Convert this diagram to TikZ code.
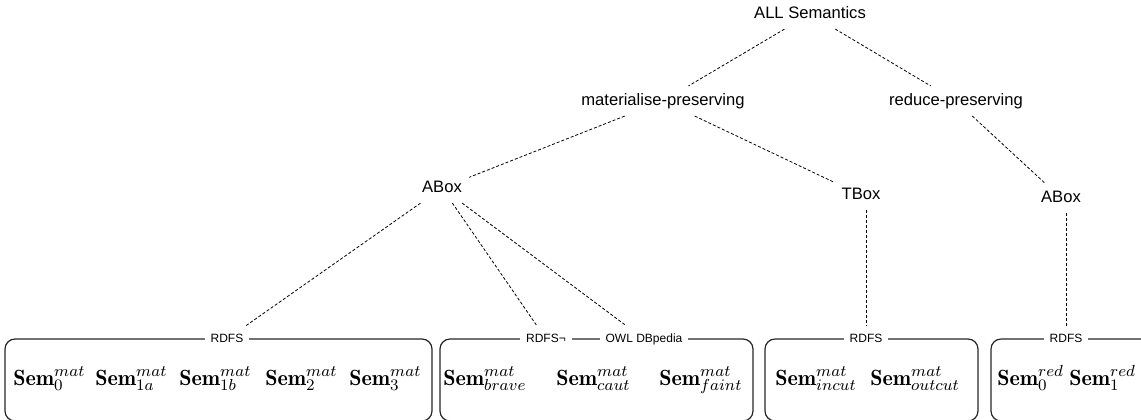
\documentclass[tikz,border=0pt]{standalone}
\usepackage{fontspec}
\newfontfamily\labfont{Liberation Sans}
\usetikzlibrary{fit}
\begin{document}
\begin{tikzpicture}[x=0.5pt,y=-0.5pt,
  concept/.style={font=\labfont\fontsize{8.3}{10}\selectfont, inner sep=3.5pt,
                  text height=6pt, text depth=1.7pt},
  link/.style={draw, line width=0.4pt, dash pattern=on 1.5pt off 1pt},
  family/.style={draw=black!85, line width=0.6pt, rounded corners=5pt, inner sep=0pt},
  famlabel/.style={font=\labfont\fontsize{6}{7}\selectfont, fill=white,
                   inner xsep=3pt, inner ysep=3.5pt, text height=4.4pt, text depth=1.3pt},
  sem/.style={anchor=base west, inner sep=0pt, font=\fontsize{11}{13}\selectfont}]
\useasboundingbox (0,0) rectangle (1141,419);
\clip (0,0) rectangle (1141,419);

% taxonomy of semantics
\node[concept] (all)  at (810,14)  {ALL Semantics};
\node[concept] (mat)  at (663,101) {materialise-preserving};
\node[concept] (red)  at (956,101) {reduce-preserving};
\node[concept] (abl)  at (442,188) {ABox};
\node[concept] (tbox) at (861,195) {TBox};
\node[concept] (abr)  at (1061,198) {ABox};

% families of semantics
\node[family, fit={(5,339) (432,421)}]   (f1) {};
\node[family, fit={(440,339) (753,421)}] (f2) {};
\node[family, fit={(765,339) (978,421)}] (f3) {};
\node[family, fit={(991,339) (1170,421)}] (f4) {};

\node[famlabel] (r1)  at (227,339) {RDFS};
\node[famlabel] (r2)  at (546,339) {RDFS¬};
\node[famlabel] (owl) at (644,339) {OWL DBpedia};
\node[famlabel] (r3)  at (866,339) {RDFS};
\node[famlabel] (r4)  at (1066,339) {RDFS};

% members
\node[sem] (s0)  at (13,385)  {$\mathbf{Sem}_0^{mat}$};
\node[sem] (s1a) at (95,385)  {$\mathbf{Sem}_{1a}^{mat}$};
\node[sem] (s1b) at (179,385) {$\mathbf{Sem}_{1b}^{mat}$};
\node[sem] (s2)  at (265,385) {$\mathbf{Sem}_2^{mat}$};
\node[sem] (s3)  at (349,385) {$\mathbf{Sem}_3^{mat}$};
\node[sem] (sb)  at (443,385) {$\mathbf{Sem}_{brave}^{mat}$};
\node[sem] (sc)  at (556,385) {$\mathbf{Sem}_{caut}^{mat}$};
\node[sem] (sf)  at (659,385) {$\mathbf{Sem}_{faint}^{mat}$};
\node[sem] (si)  at (775,385) {$\mathbf{Sem}_{incut}^{mat}$};
\node[sem] (so)  at (870,385) {$\mathbf{Sem}_{outcut}^{mat}$};
\node[sem] (r0s) at (997,385) {$\mathbf{Sem}_0^{red}$};
\node[sem] (r1s) at (1069,385) {$\mathbf{Sem}_1^{red}$};

% connectors
\draw[link] (all) -- (mat);
\draw[link] (all) -- (red);
\draw[link] (mat) -- (abl);
\draw[link] (mat) -- (tbox);
\draw[link] (red) -- (abr);
\draw[link] (abl) -- (r1);
\draw[link] (abl) -- (r2);
\draw[link] (abl) -- (owl);
\draw[link] (tbox.south -| r3) -- (r3);
\draw[link] (abr.south -| r4) -- (r4);
\end{tikzpicture}
\end{document}
